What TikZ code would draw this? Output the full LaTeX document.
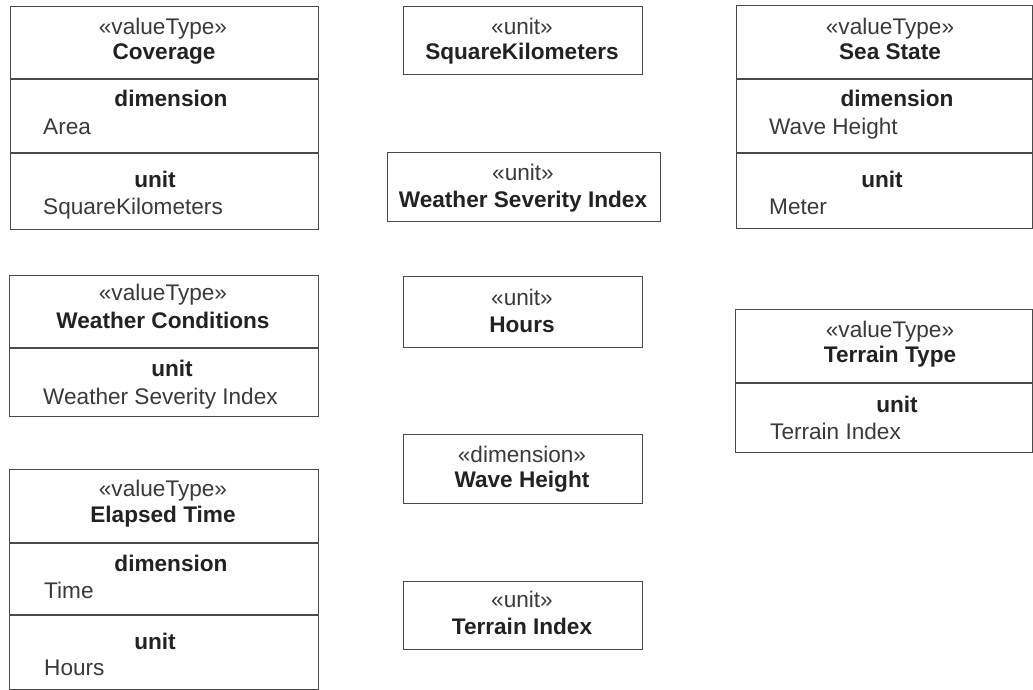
\documentclass[tikz,border=0pt]{standalone}
\usepackage{fontspec}
\setmainfont{Liberation Sans}
\definecolor{boxc}{HTML}{4A4A4A}
\definecolor{txtc}{HTML}{222222}
\definecolor{stc}{HTML}{3A3A3A}
\begin{document}
\begin{tikzpicture}[x=1pt,y=-1pt,
  umlbox/.style={draw=boxc, line width=1.4pt, rectangle, anchor=north west, inner sep=0pt},
  sep/.style={draw=boxc, line width=1.4pt},
  stereo/.style={anchor=base, inner sep=0pt, text=stc, font=\fontsize{22.6}{26}\selectfont},
  bname/.style={anchor=base, inner sep=0pt, text=txtc, font=\fontsize{22.6}{26}\selectfont\bfseries},
  val/.style={anchor=base west, inner sep=0pt, text=stc, font=\fontsize{22.6}{26}\selectfont}]
\useasboundingbox (0,0) rectangle (1033,690);
\fill[white] (0,0) rectangle (1033,690);

% ---- Coverage ----
\node[umlbox, minimum width=308pt, minimum height=223pt] (cov) at (10,6) {};
\draw[sep] (cov.west |- 0,79) -- (cov.east |- 0,79);
\draw[sep] (cov.west |- 0,153) -- (cov.east |- 0,153);
\node[stereo] (covst) at (163,35) {«valueType»};
\node[bname] (covnm) at (164,60) {Coverage};
\node[bname] (covdt) at (171,107) {dimension};
\node[val] (covdv) at (43,135) {Area};
\node[bname] (covut) at (155,187) {unit};
\node[val] (covuv) at (43,214) {SquareKilometers};

% ---- Weather Conditions ----
\node[umlbox, minimum width=309pt, minimum height=141pt] (wc) at (9,275) {};
\draw[sep] (wc.west |- 0,348) -- (wc.east |- 0,348);
\node[stereo] (wcst) at (163,300) {«valueType»};
\node[bname] (wcnm) at (163,328) {Weather Conditions};
\node[bname] (wcut) at (172,376) {unit};
\node[val] (wcuv) at (43,404) {Weather Severity Index};

% ---- Elapsed Time ----
\node[umlbox, minimum width=309pt, minimum height=220pt] (et) at (9,469) {};
\draw[sep] (et.west |- 0,543) -- (et.east |- 0,543);
\draw[sep] (et.west |- 0,615) -- (et.east |- 0,615);
\node[stereo] (etst) at (163,496) {«valueType»};
\node[bname] (etnm) at (163,522) {Elapsed Time};
\node[bname] (etdt) at (171,571) {dimension};
\node[val] (etdv) at (44,598) {Time};
\node[bname] (etut) at (155,649) {unit};
\node[val] (etuv) at (44,675) {Hours};

% ---- middle column ----
\node[umlbox, minimum width=239pt, minimum height=68pt] (sqk) at (403,6) {};
\node[stereo] (sqkst) at (522,35) {«unit»};
\node[bname] (sqknm) at (522,60) {SquareKilometers};

\node[umlbox, minimum width=273pt, minimum height=69pt] (wsi) at (387,152) {};
\node[stereo] (wsist) at (523,180) {«unit»};
\node[bname] (wsinm) at (523,207) {Weather Severity Index};

\node[umlbox, minimum width=239pt, minimum height=71pt] (hrs) at (403,276) {};
\node[stereo] (hrsst) at (522,305) {«unit»};
\node[bname] (hrsnm) at (522,332) {Hours};

\node[umlbox, minimum width=239pt, minimum height=69pt] (wh) at (403,434) {};
\node[stereo] (whst) at (522,462) {«dimension»};
\node[bname] (whnm) at (522,487) {Wave Height};

\node[umlbox, minimum width=239pt, minimum height=68pt] (ti) at (403,581) {};
\node[stereo] (tist) at (522,607) {«unit»};
\node[bname] (tinm) at (522,634) {Terrain Index};

% ---- Sea State ----
\node[umlbox, minimum width=296pt, minimum height=223pt] (ss) at (736,5) {};
\draw[sep] (ss.west |- 0,79) -- (ss.east |- 0,79);
\draw[sep] (ss.west |- 0,153) -- (ss.east |- 0,153);
\node[stereo] (ssst) at (890,35) {«valueType»};
\node[bname] (ssnm) at (890,60) {Sea State};
\node[bname] (ssdt) at (897,107) {dimension};
\node[val] (ssdv) at (769,135) {Wave Height};
\node[bname] (ssut) at (882,187) {unit};
\node[val] (ssuv) at (769,214) {Meter};

% ---- Terrain Type ----
\node[umlbox, minimum width=297pt, minimum height=143pt] (tt) at (735,309) {};
\draw[sep] (tt.west |- 0,383) -- (tt.east |- 0,383);
\node[stereo] (ttst) at (890,337) {«valueType»};
\node[bname] (ttnm) at (890,362) {Terrain Type};
\node[bname] (ttut) at (897,412) {unit};
\node[val] (ttuv) at (770,439) {Terrain Index};
\end{tikzpicture}
\end{document}
